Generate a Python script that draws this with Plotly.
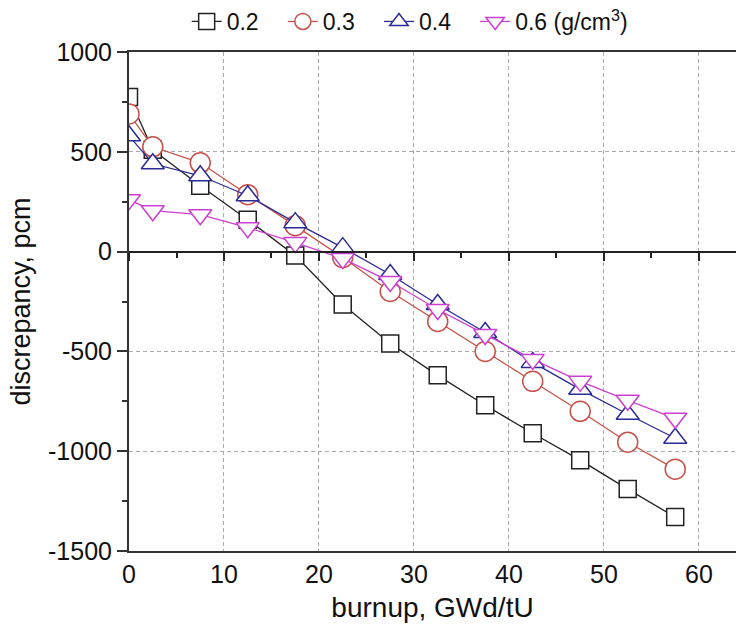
import plotly.graph_objects as go

burnup = [0, 2.5, 7.5, 12.5, 17.5, 22.5, 27.5, 32.5, 37.5, 42.5, 47.5, 52.5, 57.5]
d02 = [775, 510, 330, 160, -20, -265, -460, -620, -770, -910, -1045, -1190, -1330]
d03 = [690, 525, 445, 285, 130, -30, -200, -350, -500, -650, -800, -955, -1090]
d04 = [580, 440, 380, 280, 145, 20, -115, -265, -405, -555, -690, -815, -935]
d06 = [260, 205, 185, 120, 45, -35, -150, -290, -415, -540, -650, -745, -835]

y_tickvals = [-1500, -1000, -500, 0, 500, 1000]
y_ticktext = ["-1500", "-1000", "-500", "0", "500", "1000"]

labels = ["0.2\u00a0\u00a0\u00a0", "0.3\u00a0\u00a0\u00a0", "0.4\u00a0\u00a0\u00a0", "0.6 (g/cm<sup>3</sup>)"]
series = [d02, d03, d04, d06]
colors = ["#222222", "#c8524a", "#2b2b95", "#cc3fd0"]
symbols = ["square", "circle", "triangle-up", "triangle-down"]
sizes = [17, 20, 20, 20]

FONT = "Arial, Liberation Sans, sans-serif"

fig = go.Figure()
for lab, ys, c, s, sz in zip(labels, series, colors, symbols, sizes):
    fig.add_trace(go.Scatter(
        x=burnup, y=ys, name=lab, mode="lines+markers",
        line=dict(color=c, width=1.3),
        marker=dict(symbol=s, size=sz, color="white",
                    line=dict(color=c, width=1.5)),
    ))

# invisible trace to anchor the zero-line axis
fig.add_trace(go.Scatter(x=burnup, y=d02, xaxis="x2", yaxis="y", mode="markers",
                         marker=dict(opacity=0), showlegend=False, hoverinfo="skip"))

fig.update_layout(
    width=736, height=635,
    margin=dict(l=129, r=0, t=52, b=84),
    paper_bgcolor="white", plot_bgcolor="white",
    font=dict(family=FONT, color="#111", size=25),
    showlegend=True,
    legend=dict(orientation="h", x=0.095, xanchor="left", y=1.105, yanchor="top",
                font=dict(size=23, family=FONT), bgcolor="rgba(0,0,0,0)",
                itemwidth=30, tracegroupgap=0),
    xaxis=dict(range=[0, 63.9], dtick=10, tick0=0,
               showline=True, linecolor="#333", linewidth=2, mirror=True,
               ticks="", ticklabelstandoff=0,
               showgrid=True, gridcolor="#aaaaaa", griddash="4px,3px", gridwidth=1,
               zeroline=False,
               tickfont=dict(size=25),
               title=dict(text="burnup, GWd/tU", font=dict(size=28), standoff=10)),
    xaxis2=dict(overlaying="x", anchor="free", position=0.6, range=[0, 63.9],
                dtick=10, tick0=0, showline=True, linecolor="#222", linewidth=2,
                ticks="outside", ticklen=8, tickwidth=2, tickcolor="#222",
                minor=dict(dtick=5, ticks="outside", ticklen=5, tickwidth=1.5, tickcolor="#222"),
                showticklabels=False, showgrid=False, zeroline=False, side="bottom"),
    yaxis=dict(range=[-1500, 1000], tickvals=y_tickvals, ticktext=y_ticktext,
               showline=True, linecolor="#333", linewidth=2,
               ticks="outside", ticklen=10, tickwidth=1.5, tickcolor="#333",
               minor=dict(dtick=250, ticks="outside", ticklen=5, tickwidth=1.5, tickcolor="#333"),
               showgrid=True, gridcolor="#aaaaaa", griddash="4px,3px", gridwidth=1,
               zeroline=False,
               tickfont=dict(size=25),
               title=dict(text="discrepancy, pcm", font=dict(size=27), standoff=10)),
)

fig.write_html("out.html")
